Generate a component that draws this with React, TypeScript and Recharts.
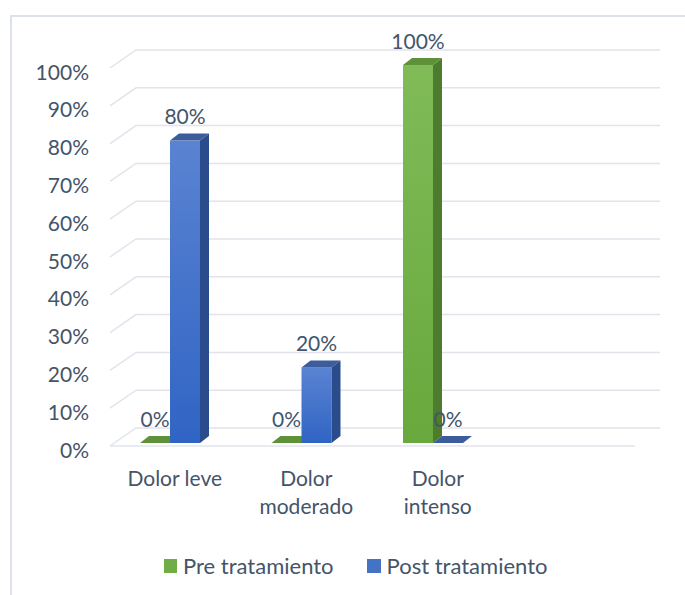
import React from 'react';
import {
  BarChart,
  Bar,
  XAxis,
  YAxis,
  CartesianGrid,
  Legend,
  LabelList,
} from 'recharts';

const categories = ['Dolor leve', 'Dolor moderado', 'Dolor intenso', ''];
const preTratamiento = [0, 0, 100, null];
const postTratamiento = [80, 20, 0, null];
const yTicks = [0, 10, 20, 30, 40, 50, 60, 70, 80, 90, 100];

const data = categories.map((name, i) => ({
  name,
  pre: preTratamiento[i],
  post: postTratamiento[i],
}));

const TEXT = '#44546A';
const FONT = 'Lato, "Open Sans", sans-serif';
const GRID = '#e1e4eb';
const FLOOR_Y = 443;

// depth of the 3d walls and of the bars
const WALL_DX = 26;
const WALL_DY = 18;
const BAR_DX = 9;
const BAR_DY = 7;

const palette = {
  pre: { front: 'url(#gPre)', side: '#4e7c2e', top: '#5f9139', legend: '#70ad47' },
  post: { front: 'url(#gPost)', side: '#2a4c8c', top: '#3d5c9c', legend: '#4472c4' },
};

// greedy word wrap, about 10 characters per line
const wrap = (label: string, max = 10) => {
  const lines: string[] = [];
  label.split(' ').forEach(w => {
    const last = lines[lines.length - 1];
    if (last && (last + ' ' + w).length <= max) lines[lines.length - 1] = last + ' ' + w;
    else lines.push(w);
  });
  return lines;
};

const Bar3D = (props: any) => {
  const { x, y, width, height, colors } = props;
  if ([x, y, width, height].some(v => v == null || Number.isNaN(v))) return null;
  if (height <= 0.5) {
    return (
      <polygon
        points={`${x},${y} ${x + BAR_DX},${y - BAR_DY} ${x + width + BAR_DX},${y - BAR_DY} ${x + width},${y}`}
        fill={colors.top}
      />
    );
  }
  return (
    <g>
      <rect x={x} y={y} width={width} height={height} fill={colors.front} />
      <polygon
        points={`${x + width},${y} ${x + width + BAR_DX},${y - BAR_DY} ${x + width + BAR_DX},${y + height - BAR_DY} ${x + width},${y + height}`}
        fill={colors.side}
      />
      <polygon
        points={`${x},${y} ${x + BAR_DX},${y - BAR_DY} ${x + width + BAR_DX},${y - BAR_DY} ${x + width},${y}`}
        fill={colors.top}
      />
    </g>
  );
};

const gridLine = (props: any) => {
  const { x1, y1, x2 } = props;
  const fx = x1 + 6;
  const fy = y1 + 3;
  const isFloor = Math.abs(y1 - FLOOR_Y) < 1;
  return (
    <g key={`g-${y1}`}>
      <path
        d={`M${fx},${fy} L${fx + WALL_DX},${fy - WALL_DY} L${x2 + 30},${fy - WALL_DY}`}
        fill="none"
        stroke={GRID}
        strokeWidth={1.5}
      />
      {isFloor && <line x1={fx} y1={fy} x2={x2 + 5} y2={fy} stroke={GRID} strokeWidth={1.5} />}
    </g>
  );
};

const YTick = (props: any) => {
  const { x, y, payload } = props;
  return (
    <text x={x - 13} y={y + 6} textAnchor="end" dominantBaseline="central" fill={TEXT} fontSize={21} fontFamily={FONT}>
      {payload.value}%
    </text>
  );
};

const XTick = (props: any) => {
  const { x, y, payload } = props;
  if (!payload.value) return null;
  return (
    <text textAnchor="middle" fill={TEXT} fontSize={21} fontFamily={FONT}>
      {wrap(payload.value).map((line, i) => (
        <tspan key={i} x={x + 5} y={y + 34 + i * 28} dominantBaseline="central">
          {line}
        </tspan>
      ))}
    </text>
  );
};

const renderValue = (props: any) => {
  const { x, y, width, value } = props;
  if (value == null) return null;
  return (
    <text
      x={x + width / 2}
      y={y - 25}
      textAnchor="middle"
      dominantBaseline="central"
      fill={TEXT}
      fontSize={21}
      fontFamily={FONT}
    >
      {value}%
    </text>
  );
};

const LegendContent = () => (
  <div style={{ display: 'flex', alignItems: 'center', fontFamily: FONT, fontSize: 22, color: TEXT }}>
    <span style={{ width: 13, height: 14, background: palette.pre.legend, marginRight: 6 }} />
    <span style={{ marginRight: 33 }}>Pre tratamiento</span>
    <span style={{ width: 14, height: 14, background: palette.post.legend, marginRight: 6 }} />
    <span>Post tratamiento</span>
  </div>
);

export default function App() {
  return (
    <div
      style={{
        position: 'absolute',
        left: 0,
        top: 0,
        width: 685,
        height: 595,
        overflow: 'hidden',
        background: '#fff',
      }}
    >
      <div
        style={{
          position: 'absolute',
          left: 10,
          top: 15,
          width: 700,
          height: 620,
          border: '2px solid #dde2ea',
        }}
      />
      <div style={{ position: 'absolute', left: 0, top: 0 }}>
        <BarChart
          width={685}
          height={595}
          data={data}
          margin={{ top: 65, right: 55, bottom: 52, left: 14 }}
          barSize={30}
          barGap={0}
        >
          <defs>
            <linearGradient id="gPre" x1="0" y1="0" x2="0" y2="1">
              <stop offset="0%" stopColor="#80bb58" />
              <stop offset="100%" stopColor="#68a83c" />
            </linearGradient>
            <linearGradient id="gPost" x1="0" y1="0" x2="0" y2="1">
              <stop offset="0%" stopColor="#5a83d2" />
              <stop offset="100%" stopColor="#3064c4" />
            </linearGradient>
          </defs>
          <CartesianGrid vertical={false} horizontal={gridLine} />
          <XAxis
            dataKey="name"
            axisLine={false}
            tickLine={false}
            tickSize={0}
            tickMargin={0}
            height={100}
            interval={0}
            tick={<XTick />}
          />
          <YAxis
            domain={[0, 100]}
            ticks={yTicks}
            width={90}
            axisLine={false}
            tickLine={false}
            tickSize={0}
            tickMargin={2}
            tick={<YTick />}
          />
          <Legend
            verticalAlign="middle"
            layout="horizontal"
            content={<LegendContent />}
            wrapperStyle={{ left: 164, top: 552, width: 440 }}
          />
          <Bar
            dataKey="pre"
            name="Pre tratamiento"
            fill={palette.pre.legend}
            isAnimationActive={false}
            shape={(p: any) => <Bar3D {...p} colors={palette.pre} />}
          >
            <LabelList dataKey="pre" content={renderValue} />
          </Bar>
          <Bar
            dataKey="post"
            name="Post tratamiento"
            fill={palette.post.legend}
            isAnimationActive={false}
            shape={(p: any) => <Bar3D {...p} colors={palette.post} />}
          >
            <LabelList dataKey="post" content={renderValue} />
          </Bar>
        </BarChart>
      </div>
    </div>
  );
}
